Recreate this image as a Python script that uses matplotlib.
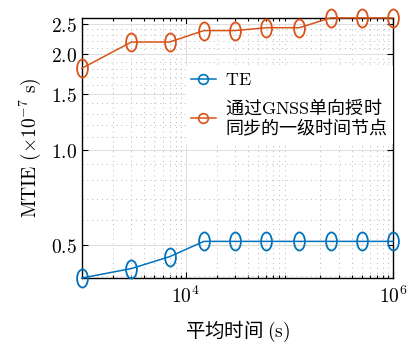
import matplotlib
matplotlib.use('Agg')
import matplotlib.pyplot as plt
import numpy as np
from matplotlib.path import Path
from matplotlib.transforms import Affine2D
from matplotlib.lines import Line2D
from matplotlib.ticker import FixedLocator, FixedFormatter, NullFormatter

plt.rcParams.update({
    'mathtext.fontset': 'cm',
    'font.family': ['Noto Sans CJK SC', 'DejaVu Sans'],
    'axes.unicode_minus': False,
})

# data
tau = [1000, 3000, 7000, 15000, 30000, 60000, 125000, 250000, 500000, 1000000]
mtie_te = [0.393, 0.421, 0.459, 0.513, 0.513, 0.513, 0.513, 0.513, 0.513, 0.513]
mtie_gnss = [1.81, 2.19, 2.19, 2.38, 2.38, 2.43, 2.43, 2.61, 2.61, 2.61]

y_ticks = [0.5, 1.0, 1.5, 2.0, 2.5]
y_minor = [0.4, 0.6, 0.7, 0.8, 0.9, 1.1, 1.2, 1.3, 1.4, 1.6, 1.7, 1.8, 1.9,
           2.1, 2.2, 2.3, 2.4, 2.6]
labels = [r'$\mathrm{TE}$', '通过$\\mathrm{GNSS}$单向授时\n同步的一级时间节点']

BLUE = '#0072BD'
ORANGE = '#D95319'

# tall ellipse marker (stretched circle, as in the original figure)
ellipse = Path.unit_circle().transformed(Affine2D().scale(0.6, 1.0))

fig = plt.figure(figsize=(4.08, 3.58), dpi=100)
ax = fig.add_axes([0.201, 0.2235, 0.762, 0.7265])

for y, c in [(mtie_te, BLUE), (mtie_gnss, ORANGE)]:
    ax.plot(tau, y, color=c, lw=1.1, marker=ellipse, markersize=13,
            markerfacecolor='none', markeredgewidth=1.3, clip_on=False, zorder=5)

ax.set_xscale('log')
ax.set_yscale('log')
ax.set_xlim(1e3, 1e6)
ax.set_ylim(min(mtie_te), max(mtie_gnss))

ax.xaxis.set_major_locator(FixedLocator([1e4, 1e6]))
ax.xaxis.set_major_formatter(FixedFormatter([r'$10^4$', r'$10^6$']))
minor_x = [m * 10 ** e for e in range(3, 6) for m in range(2, 10)]
ax.xaxis.set_minor_locator(FixedLocator(minor_x))
ax.xaxis.set_minor_formatter(NullFormatter())

ax.yaxis.set_major_locator(FixedLocator(y_ticks))
ax.yaxis.set_major_formatter(FixedFormatter([r'$%.1f$' % v for v in y_ticks]))
ax.yaxis.set_minor_locator(FixedLocator(y_minor))
ax.yaxis.set_minor_formatter(NullFormatter())

ax.tick_params(which='both', direction='in', top=True, right=True,
               labelsize=14, width=0.8, color='black')
ax.tick_params(which='major', length=4)
ax.tick_params(axis='x', which='minor', length=2.5)
ax.tick_params(axis='y', which='minor', length=0)
ax.tick_params(axis='x', pad=6)

ax.grid(True, which='major', color='#dedede', lw=0.7, ls='-')
ax.grid(True, which='minor', color='#b8b8b8', lw=0.7, ls=(0, (1, 4)))
ax.set_axisbelow(True)
for s in ax.spines.values():
    s.set_linewidth(1.0)

ax.set_xlabel('平均时间 $(\\mathrm{s})$', fontsize=14, labelpad=8)
ax.set_ylabel(r'$\mathrm{MTIE}\ (\times 10^{-7}\ \mathrm{s})$', fontsize=14, labelpad=6)

handles = [Line2D([], [], color=c, lw=1.1, marker='o', markersize=7,
                  markerfacecolor='none', markeredgewidth=1.2)
           for c in (BLUE, ORANGE)]
leg = ax.legend(handles, labels, loc='upper right', bbox_to_anchor=(1.0, 0.815),
                fontsize=13, frameon=True, fancybox=False, edgecolor='none',
                facecolor='white', framealpha=1, handlelength=1.35,
                handletextpad=0.55, borderpad=0.3, labelspacing=0.4,
                borderaxespad=0)
leg.set_zorder(10)

fig.savefig('out.png', dpi=100)
